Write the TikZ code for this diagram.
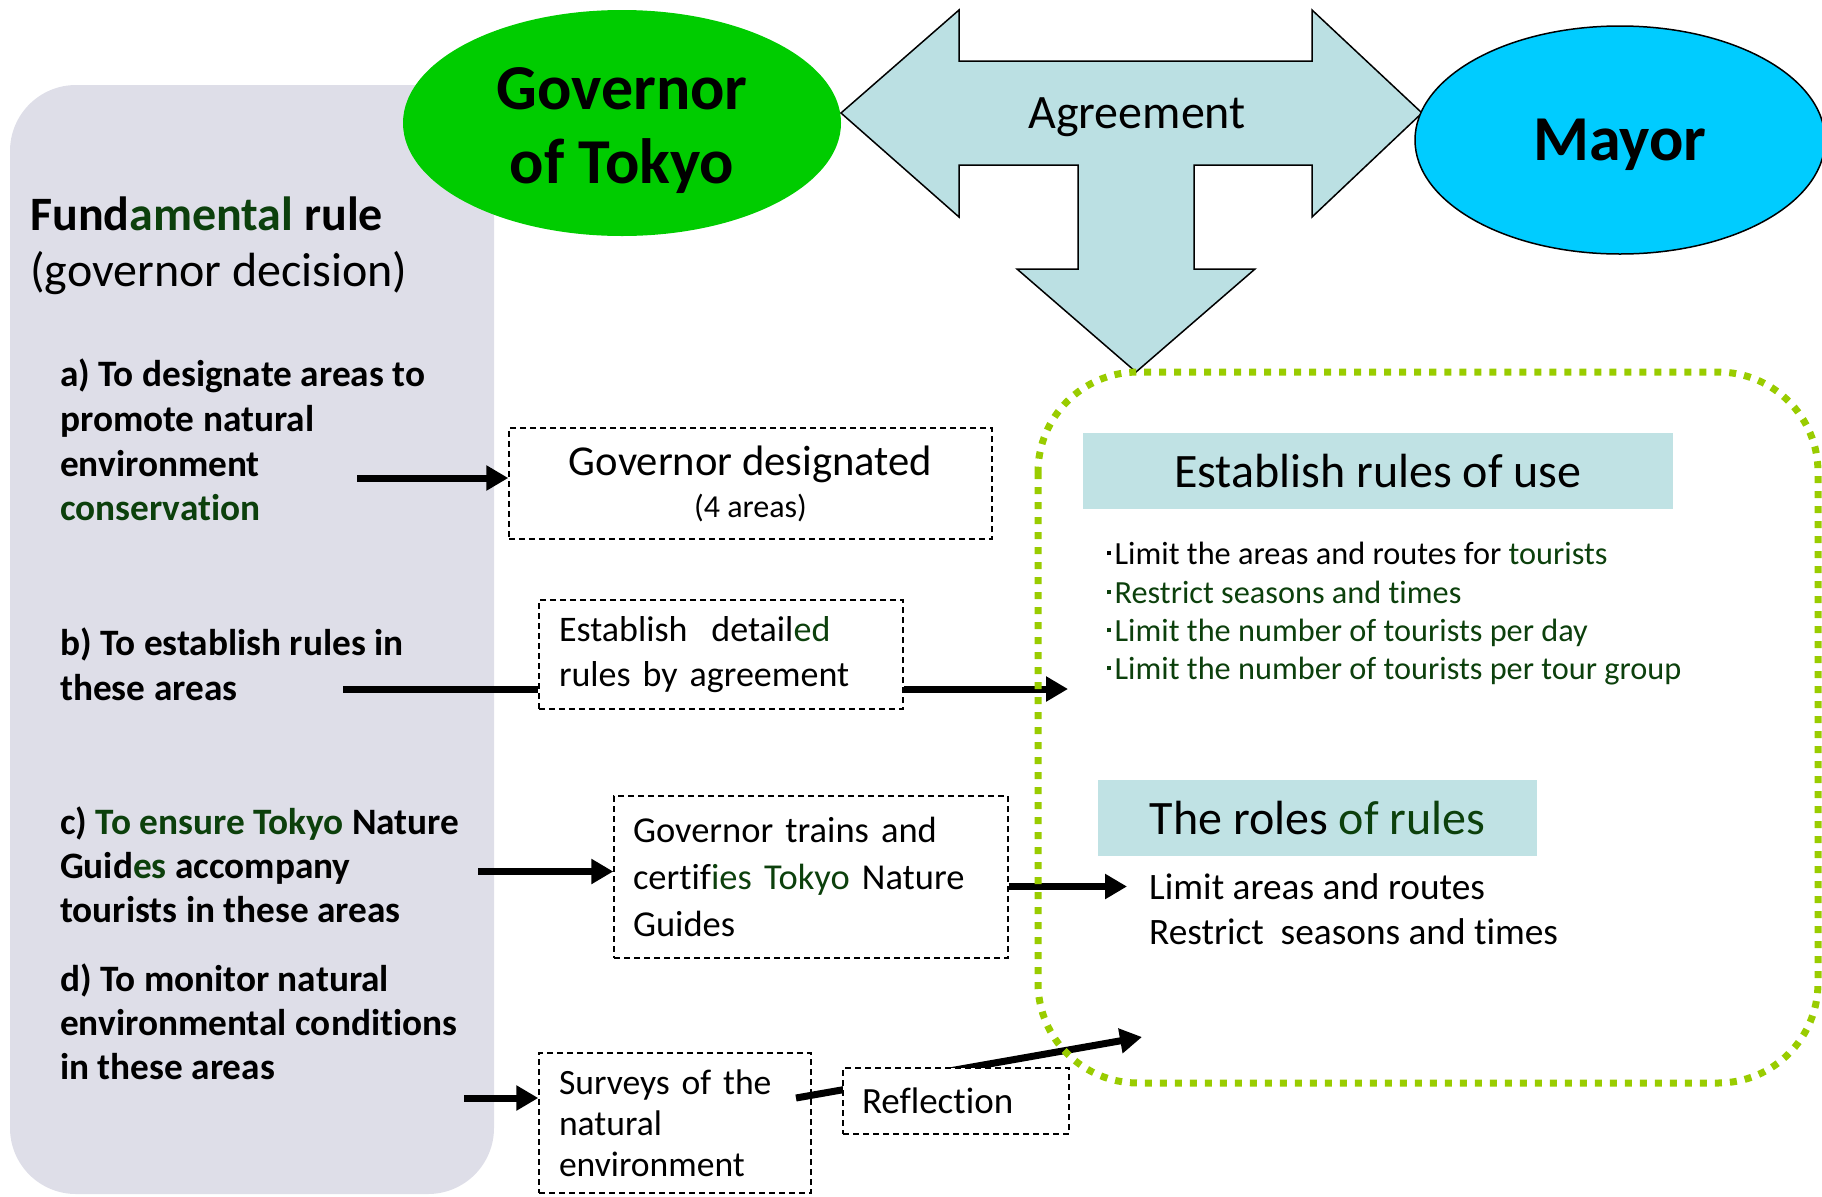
\documentclass[tikz,border=0pt]{standalone}
\usepackage{fontspec}
\setmainfont{Carlito}[Ligatures=CommonOff]
\usetikzlibrary{shapes.geometric,arrows.meta}
\definecolor{dkgreen}{RGB}{12,64,12}
\definecolor{govgreen}{RGB}{0,204,0}
\definecolor{mayorblue}{RGB}{0,204,255}
\definecolor{agreeblue}{RGB}{187,224,227}
\definecolor{headblue}{RGB}{192,226,228}
\definecolor{panelgray}{RGB}{222,222,232}
\definecolor{dotgreen}{RGB}{153,204,0}
\newcommand{\dg}[1]{\textcolor{dkgreen}{#1}}
\newcommand{\sqb}{\raisebox{0.27em}{\rule{0.13em}{0.13em}}\hspace{0.1em}}
\begin{document}
\begin{tikzpicture}[x=1bp,y=-1bp,
  ovalnode/.style={ellipse, inner sep=0pt, align=center},
  dashbox/.style={draw, dashed, line width=1.4bp, dash pattern=on 6bp off 4bp, inner ysep=0pt},
  headbox/.style={fill=headblue, inner sep=0pt, font=\fontsize{48bp}{56bp}\selectfont},
  fundtext/.style={anchor=base west, inner sep=0pt, font=\fontsize{48bp}{56bp}\selectfont},
  ruletext/.style={anchor=base west, inner sep=0pt, font=\fontsize{37.3bp}{44bp}\selectfont\bfseries},
  listtext/.style={anchor=base west, inner sep=0pt, font=\fontsize{32.3bp}{38bp}\selectfont},
  roletext/.style={anchor=base west, inner sep=0pt, font=\fontsize{37.3bp}{45bp}\selectfont},
  bar/.style={line width=7bp},
  arr/.style={line width=7bp, -{Triangle[length=22bp,width=24bp]}},
  ]
  \useasboundingbox (0,0) rectangle (1822,1196);
  %Panel
  \fill[panelgray, rounded corners=66bp] (10,85) rectangle (494,1194);

  %Actors
  \node[ovalnode, fill=govgreen, minimum width=438bp, minimum height=226bp,
        font=\fontsize{64bp}{74bp}\selectfont\bfseries] (gov) at (622,123)
        {\rule{0pt}{58bp}Governor\\of Tokyo};
  \filldraw[fill=agreeblue, line width=1.5bp, line join=miter]
    (841,113) -- (959,10) -- (959,61) -- (1312,61) -- (1312,10) -- (1422,113)
    -- (1312,217) -- (1312,165) -- (1194,165) -- (1194,269) -- (1255,269)
    -- (1136,372) -- (1017,269) -- (1078,269) -- (1078,165) -- (959,165)
    -- (959,217) -- cycle;
  \node[anchor=base, inner sep=0pt, font=\fontsize{48bp}{56bp}\selectfont] (agree) at (1137,128) {Agreement};
  \node[ovalnode, draw, line width=1.5bp, fill=mayorblue, minimum width=410bp, minimum height=228bp,
        text depth=0bp, font=\fontsize{64bp}{72bp}\selectfont\bfseries] (mayor) at (1620,140) {Mayor};

  %Fundamental rule
  \node[fundtext, font=\fontsize{48bp}{56bp}\selectfont\bfseries] (fund) at (30,230) {Fund\dg{amental} rule};
  \node[fundtext] (fundsub) at (30,286) {(governor decision)};
  \node[ruletext] (a1) at (60,386) {a) To designate areas to};
  \node[ruletext] (a2) at (60,431) {promote natural};
  \node[ruletext] (a3) at (60,476) {environment};
  \node[ruletext] (a4) at (60,520) {\dg{conservation}};
  \node[ruletext] (b1) at (60,655) {b) To establish rules in};
  \node[ruletext] (b2) at (60,700) {these areas};
  \node[ruletext] (c1) at (60,834) {c) \dg{To ensure Tokyo} Nature};
  \node[ruletext] (c2) at (60,878) {Guid\dg{es} accompany};
  \node[ruletext] (c3) at (60,922) {tourists in these areas};
  \node[ruletext] (d1) at (60,991) {d) To monitor natural};
  \node[ruletext] (d2) at (60,1035) {environmental conditions};
  \node[ruletext] (d3) at (60,1079) {in these areas};

  %Measures
  \node[dashbox, minimum width=483bp, minimum height=111bp, align=center,
        font=\fontsize{42.6bp}{42bp}\selectfont] (boxa) at (750.5,483.5)
        {Governor designated\\{\fontsize{32bp}{30bp}\selectfont(4 areas)}};
  \node[dashbox, text width=324bp, inner xsep=20bp, minimum height=109bp, align=left,
        font=\fontsize{36bp}{45bp}\selectfont] (boxb) at (721,654.5)
        {Establish\ \ detail\dg{ed}\\rules by agreement};
  \node[dashbox, text width=356bp, inner xsep=19bp, minimum height=162bp, align=left,
        font=\fontsize{36.5bp}{47bp}\selectfont] (boxc) at (811,877)
        {Governor trains and\\certif\dg{ies Tokyo} Nature\\Guides};
  \node[dashbox, text width=232bp, inner xsep=20bp, minimum height=140bp, align=left,
        font=\fontsize{35.6bp}{41bp}\selectfont] (boxd) at (675,1123)
        {Surveys of the\\natural\\environment};

  %Rules of use
  \node[headbox, minimum width=590bp, minimum height=76bp] (use) at (1378,471) {Establish rules of use};
  \node[listtext] (l1) at (1107,564) {\sqb Limit the areas and routes for \dg{tourists}};
  \node[listtext, text=dkgreen] (l2) at (1107,603) {\sqb Restrict seasons and times};
  \node[listtext, text=dkgreen] (l3) at (1107,641) {\sqb Limit the number of tourists per day};
  \node[listtext, text=dkgreen] (l4) at (1107,679) {\sqb Limit the number of tourists per tour group};
  \node[headbox, minimum width=439bp, minimum height=76bp] (roles) at (1317.5,818) {The roles \dg{of rules}};
  \node[roletext] (r1) at (1149,899) {Limit areas and routes};
  \node[roletext] (r2) at (1149,944) {Restrict\ \ seasons and times};

  %Connectors
  \coordinate (aS) at (357,478);
  \coordinate (bS) at (343,689);
  \coordinate (bT) at (1068,689);
  \coordinate (cS) at (478,871.5);
  \coordinate (cT) at (1127,886.5);
  \coordinate (dS) at (464,1098);
  \coordinate (rS) at (796,1098);
  \coordinate (rT) at (1142,1037);
  \draw[arr] (aS) -- (aS -| boxa.west);
  \draw[bar] (bS) -- (bS -| boxb.west);
  \draw[arr] (bS -| boxb.east) -- (bT);
  \draw[arr] (cS) -- (cS -| boxc.west);
  \draw[arr] (cT -| boxc.east) -- (cT);
  \draw[arr] (dS) -- (dS -| boxd.west);
  \draw[arr] (rS) -- (rT);
  \node[dashbox, fill=white, text width=188bp, inner xsep=19bp, minimum height=66bp, align=left,
        font=\fontsize{37bp}{44bp}\selectfont] (refl) at (956,1101) {Reflection};

  %Scope of the rules
  \draw[dotgreen, line width=7bp, dash pattern=on 7bp off 8bp, rounded corners=100bp]
    (1038,372) rectangle (1818,1083);
\end{tikzpicture}
\end{document}
